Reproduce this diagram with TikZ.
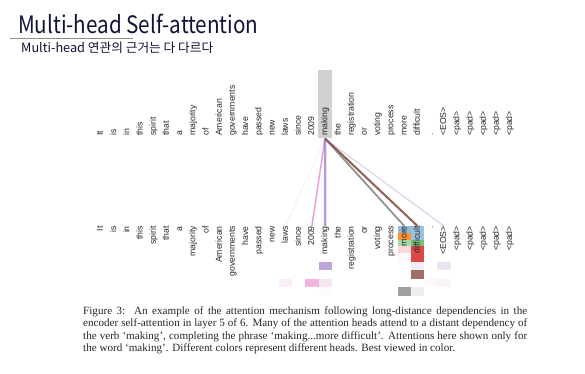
\documentclass[tikz,border=0pt]{standalone}
\usepackage{fontspec}
\setmainfont{Liberation Serif}
\setsansfont{Liberation Sans}
\newfontfamily\krfont{Noto Sans CJK KR}

\definecolor{tabblue}{HTML}{1F77B4}
\definecolor{taborange}{HTML}{FF7F0E}
\definecolor{tabgreen}{HTML}{2CA02C}
\definecolor{tabred}{HTML}{D62728}
\definecolor{tabpurple}{HTML}{9467BD}
\definecolor{tabbrown}{HTML}{8C564B}
\definecolor{tabpink}{HTML}{E377C2}
\definecolor{tabgray}{HTML}{7F7F7F}
\definecolor{titlecol}{HTML}{10123A}

\tikzset{
  tok/.style={font=\sffamily\fontsize{8.7}{8.7}\selectfont, text=black!85,
    inner sep=0pt, text height=6.3pt, text depth=1.8pt, rotate=90},
  capline/.style={font=\fontsize{11.1}{12}\selectfont, text=black!85,
    inner sep=0pt, anchor=base west},
}

\begin{document}
\begin{tikzpicture}[x=1pt, y=-1pt]
  \useasboundingbox (0,0) rectangle (585,373);

  % heading
  \node [anchor=base west, inner sep=0pt, text=titlecol,
    font=\krfont\fontsize{24}{24}\selectfont] (title) at (18,33) {\scalebox{0.86}[1]{Multi-head Self-attention}};
  \draw [black!45, line width=0.8pt] (10,38.5) -- (133,38.5);
  \node [anchor=base west, inner sep=0pt, text=titlecol,
    font=\krfont\fontsize{12.7}{12.7}\selectfont] (subtitle) at (21,52.5) {Multi-head 연관의 근거는 다 다르다};

  % query word
  \node [fill=black!18, minimum width=13.4pt, minimum height=68pt, inner sep=0pt,
    anchor=south] (hl) at (325,138.5) {};

  % attention weights per head
  \foreach \c/\ya/\yb/\clr/\op in {
      23/226/233/tabblue/0.5, 23/233/239.5/taborange/0.85, 23/239.5/246/tabgreen/0.4,
      23/246/253/tabred/0.18, 23/253/262/tabpurple/0.04, 23/287.3/296/tabgray/0.75,
      24/226/239.5/tabblue/0.45, 24/239.5/246/tabgreen/0.65, 24/246/261.7/tabred/0.85,
      24/261.7/270/tabpurple/0.12, 24/270/279/tabbrown/0.85, 24/287.3/296/tabgray/0.12,
      17/261.7/270/tabpurple/0.6, 17/279/287.3/tabpink/0.2, 17/287.3/296/tabgray/0.03,
      16/279/287.3/tabpink/0.55, 14/279/287.3/tabpink/0.12,
      26/261.7/270/tabpurple/0.18, 26/279/287.3/tabpink/0.08, 25/279/287.3/tabpink/0.05}
    \fill [\clr, opacity=\op] ({100.7+13.2*\c-6.6},\ya) rectangle ({100.7+13.2*\c+6.6},\yb);

  % tokens
  \foreach \w [count=\i from 0] in {It,is,in,this,spirit,that,a,majority,of,American,
      governments,have,passed,new,laws,since,2009,making,the,registration,or,voting,
      process,more,difficult,.,<EOS>,<pad>,<pad>,<pad>,<pad>,<pad>} {
    \node [tok, anchor=west] (top-\i) at ({100.7+13.2*\i},136) {\w};
    \node [tok, anchor=east] (bot-\i) at ({100.7+13.2*\i},226) {\w};
  }

  % attention lines from 'making'
  \draw [tabpink, opacity=0.15, line width=0.8pt] (hl.south) -- (bot-14.east);
  \draw [tabpink, opacity=0.7, line width=1.5pt] (hl.south) -- (bot-16.east);
  \draw [tabpurple, opacity=0.65, line width=2.5pt] (hl.south) -- (bot-17.east);
  \draw [tabgray, opacity=0.85, line width=1.8pt] (hl.south) -- (bot-23.east);
  \draw [tabbrown, opacity=0.95, line width=2pt] (hl.south) -- (bot-24.east);
  \draw [tabpurple, opacity=0.3, line width=1.2pt] (hl.south) -- (bot-26.east);

  % caption
  \node [capline] (cap1) at (83,314) {\hbox to 444pt{Figure 3:\ \ An example of the attention mechanism following long-distance dependencies in the}};
  \node [capline] (cap2) at (83,326.5) {\hbox to 444pt{encoder self-attention in layer 5 of 6. Many of the attention heads attend to a distant dependency of}};
  \node [capline] (cap3) at (83,339) {\hbox to 444pt{the verb ‘making’, completing the phrase ‘making...more difficult’. Attentions here shown only for}};
  \node [capline] (cap4) at (83,351.5) {the word ‘making’. Different colors represent different heads. Best viewed in color.};
\end{tikzpicture}
\end{document}
